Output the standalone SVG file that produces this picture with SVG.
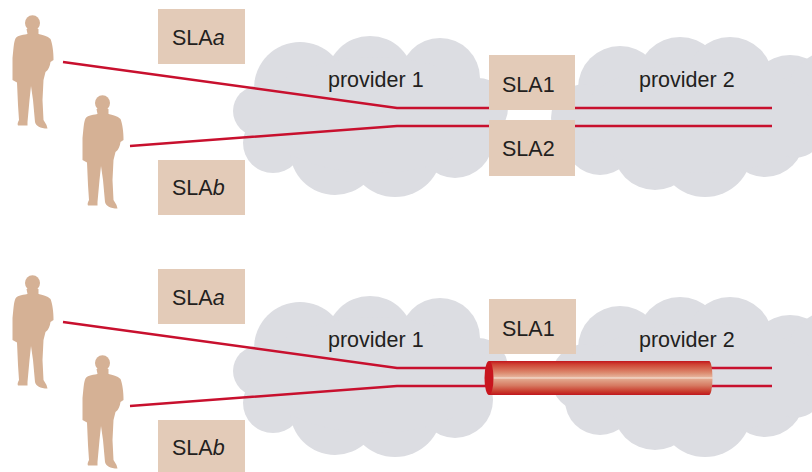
<svg xmlns="http://www.w3.org/2000/svg" width="812" height="472" viewBox="0 0 812 472">
  <style>
    .cloud { fill: #dcdde2; }
    .person { fill: #d5b195; }
    .box { fill: #e3cbb8; }
    .label { font-family: "Liberation Sans", Arial, sans-serif; font-size: 21.5px; fill: #231f20; }
    .link { fill: none; stroke: #c8102e; stroke-width: 2.5; stroke-linejoin: miter; }
  </style>
  <defs>
    <!-- cloud outlines built from overlapping lobes -->
    <g id="cloud-left">
      <circle cx="300" cy="88" r="46"/>
      <circle cx="370" cy="80" r="44"/>
      <circle cx="440" cy="78" r="40"/>
      <circle cx="478" cy="108" r="30"/>
      <circle cx="258" cy="111" r="25"/>
      <circle cx="273" cy="143" r="30"/>
      <circle cx="335" cy="150" r="45"/>
      <circle cx="395" cy="150" r="47"/>
      <circle cx="455" cy="140" r="38"/>
      <ellipse cx="375" cy="115" rx="115" ry="58"/>
    </g>
    <g id="cloud-right">
      <circle cx="620" cy="88" r="42"/>
      <circle cx="680" cy="80" r="43"/>
      <circle cx="730" cy="80" r="43"/>
      <circle cx="790" cy="97" r="42"/>
      <circle cx="835" cy="100" r="50"/>
      <circle cx="585" cy="118" r="34"/>
      <circle cx="600" cy="140" r="35"/>
      <circle cx="655" cy="148" r="42"/>
      <circle cx="705" cy="150" r="47"/>
      <circle cx="765" cy="138" r="39"/>
      <circle cx="795" cy="130" r="28"/>
      <ellipse cx="700" cy="118" rx="120" ry="55"/>
    </g>
    <!-- standing man silhouette, one hand in pocket -->
    <g id="man">
      <ellipse cx="32.5" cy="23" rx="7.5" ry="7.8"/>
      <path d="M26.5 29 L27.5 34 C21 35 16.5 36 15.5 38.5 C13.5 43 13.5 50 12.5 58 L12.5 80 L17 82.5 L18 105 L19 120 C18 122 17 124 18 125.5 L27.5 125.5 L27.5 122 L29.5 100 L31 86 L33 100 L35 122 C36 126 40 128.5 47.5 128.5 L46.5 125 L43.5 120 L42.5 100 L43.5 80 L45.5 72 C48.5 70 50 66 50.5 62 L53.5 60 C53.5 52 52.5 44 50.5 39 C47.5 36 42.5 35 38.5 34 L38.5 29 Z"/>
    </g>
    <linearGradient id="tube-shade" x1="0" y1="0" x2="0" y2="1">
      <stop offset="0" stop-color="#c2161d"/>
      <stop offset="0.1" stop-color="#cf4434"/>
      <stop offset="0.35" stop-color="#dc8c70"/>
      <stop offset="0.47" stop-color="#e6b29a"/>
      <stop offset="0.5" stop-color="#f5e6da"/>
      <stop offset="0.53" stop-color="#e3a88e"/>
      <stop offset="0.72" stop-color="#d67a62"/>
      <stop offset="0.9" stop-color="#c93a2c"/>
      <stop offset="1" stop-color="#c0161d"/>
    </linearGradient>
  </defs>

  <rect width="812" height="472" fill="#ffffff"/>

  <!-- upper scenario -->
  <g id="provider1-top" class="cloud"><use href="#cloud-left"/></g>
  <g id="provider2-top" class="cloud"><use href="#cloud-right"/></g>
  <g id="user-a-top" class="person"><use href="#man"/></g>
  <g id="user-b-top" class="person"><use href="#man" x="70" y="80"/></g>

  <g id="connectors-top">
    <polyline class="link" points="63,62 397,108 772,108"/>
    <polyline class="link" points="130,146 397,126 772,126"/>
  </g>

  <g id="sla-a-top"><rect class="box" x="158" y="9" width="87" height="55"/><text class="label" x="172" y="45">SLA<tspan font-style="italic">a</tspan></text></g>
  <g id="sla-b-top"><rect class="box" x="158" y="160" width="87" height="55"/><text class="label" x="172" y="195">SLA<tspan font-style="italic">b</tspan></text></g>
  <g id="sla1-top"><rect class="box" x="489" y="55" width="86" height="55"/><text class="label" x="502" y="92">SLA1</text></g>
  <g id="sla2-top"><rect class="box" x="489" y="120" width="86" height="56"/><text class="label" x="502" y="156">SLA2</text></g>
  <text class="label" x="328" y="87">provider 1</text>
  <text class="label" x="639" y="87">provider 2</text>

  <!-- lower scenario: both flows bundled through one tunnel -->
  <g id="provider1-bottom" class="cloud"><use href="#cloud-left" y="260"/></g>
  <g id="provider2-bottom" class="cloud"><use href="#cloud-right" y="260"/></g>
  <g id="user-a-bottom" class="person"><use href="#man" y="260"/></g>
  <g id="user-b-bottom" class="person"><use href="#man" x="70" y="340"/></g>

  <g id="connectors-bottom">
    <polyline class="link" points="63,322 397,368 772,368"/>
    <polyline class="link" points="130,406 397,386 772,386"/>
  </g>

  <g id="tunnel">
    <path d="M489 361 L709 361 A3.5 17 0 0 1 709 395 L489 395 Z" fill="url(#tube-shade)"/>
    <ellipse cx="489" cy="378" rx="4.5" ry="17" fill="#c8161e"/>
  </g>

  <g id="sla-a-bottom"><rect class="box" x="158" y="269" width="87" height="55"/><text class="label" x="172" y="305">SLA<tspan font-style="italic">a</tspan></text></g>
  <g id="sla-b-bottom"><rect class="box" x="158" y="420" width="87" height="55"/><text class="label" x="172" y="455">SLA<tspan font-style="italic">b</tspan></text></g>
  <g id="sla1-bottom"><rect class="box" x="489" y="299" width="87" height="55"/><text class="label" x="502" y="336">SLA1</text></g>
  <text class="label" x="328" y="347">provider 1</text>
  <text class="label" x="639" y="347">provider 2</text>
</svg>
